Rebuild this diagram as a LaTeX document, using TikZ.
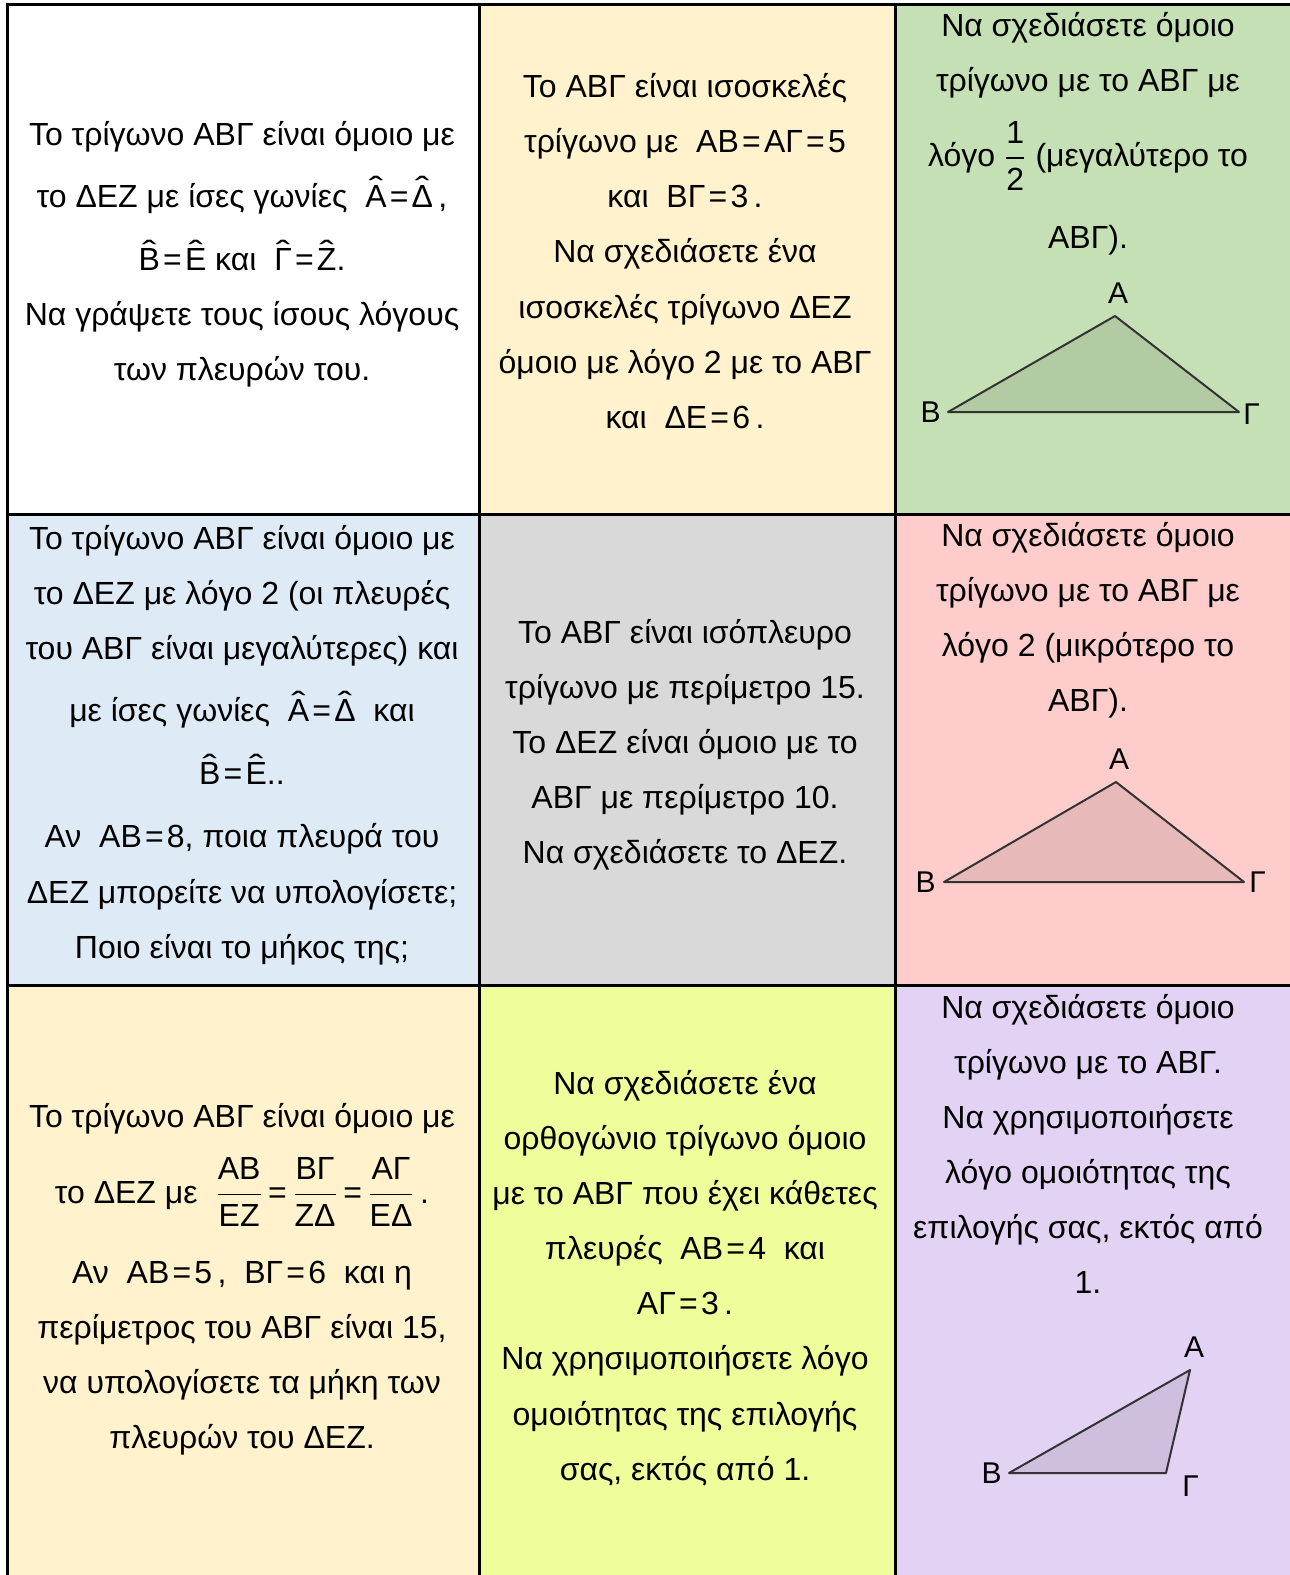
\documentclass[tikz,border=0pt]{standalone}
\usepackage{fontspec}
\setmainfont{Liberation Sans}
\usepackage{amsmath}
\usepackage{graphicx}
\usetikzlibrary{positioning}

\definecolor{kitrino}{HTML}{FFF2CC}
\definecolor{prasino}{HTML}{C5E0B4}
\definecolor{galazio}{HTML}{DEEBF7}
\definecolor{gkri}{HTML}{D9D9D9}
\definecolor{roz}{HTML}{FFCCCC}
\definecolor{lemoni}{HTML}{EFFE9A}
\definecolor{mov}{HTML}{E2D3F4}

% angle with a hat
\newcommand\kap[1]{\leavevmode\setbox0\hbox{#1}\hbox to\wd0{\hss\raisebox{0.24em}{\scalebox{1.35}[1]{ˆ}}\hss}\kern-\wd0\box0\relax}
\newcommand\klasma[2]{$\dfrac{\text{#1}}{\text{#2}}$}
\newcommand\ison{\kern0.1em=\kern0.1em}

\begin{document}
\begin{tikzpicture}[x=0.5pt,y=-0.5pt,
    kelli/.style={align=center,inner sep=0pt,font=\fontsize{16}{27.55}\selectfont},
    korifi/.style={inner sep=0pt,font=\fontsize{15}{18}\selectfont},
    trigono/.style={draw=black!80,line width=1pt,line join=round,fill=black,fill opacity=0.09}]
    \useasboundingbox (0,0) rectangle (1290,1575);

    % Cells
    \fill[white]   (7,4)    rectangle (479,514);
    \fill[kitrino] (479,4)  rectangle (895,514);
    \fill[prasino] (895,4)  rectangle (1290,514);
    \fill[galazio] (7,514)  rectangle (479,985);
    \fill[gkri]    (479,514) rectangle (895,985);
    \fill[roz]     (895,514) rectangle (1290,985);
    \fill[kitrino] (7,985)  rectangle (479,1575);
    \fill[lemoni]  (479,985) rectangle (895,1575);
    \fill[mov]     (895,985) rectangle (1290,1575);

    % Grid
    \draw[line width=1.5pt] (1290,4)--(7,4)--(7,1575);
    \foreach \y in {514,985} \draw[line width=1.5pt] (7,\y)--(1290,\y);
    \foreach \x in {479,895} \draw[line width=1.5pt] (\x,4)--(\x,1575);

    % Text
    \node[kelli] (q1) at (242,254.5) {Το τρίγωνο ΑΒΓ είναι όμοιο με\\[3.5pt]
        το ΔΕΖ με ίσες γωνίες~ \kap{Α}\ison\kap{Δ}\,,\\[4pt]
        \kap{Β}\ison\kap{Ε} και~ \kap{Γ}\ison\kap{Ζ}.\\
        Να γράψετε τους ίσους λόγους\\
        των πλευρών του.};
    \node[kelli] (q2) at (685,251) {Το ΑΒΓ είναι ισοσκελές\\
        τρίγωνο με~ ΑΒ\ison ΑΓ\ison 5\\
        και~ ΒΓ\ison 3\,.\\
        Να σχεδιάσετε ένα\\
        ισοσκελές τρίγωνο ΔΕΖ\\
        όμοιο με λόγο 2 με το ΑΒΓ\\
        και~ ΔΕ\ison 6\,.};
    \node[kelli] (q3) at (1088,134) {Να σχεδιάσετε όμοιο\\
        τρίγωνο με το ΑΒΓ με\\[10pt]
        λόγο \klasma{1}{2} (μεγαλύτερο το\\[13.5pt]
        ΑΒΓ).};
    \node[kelli] (q4) at (242,745) {Το τρίγωνο ΑΒΓ είναι όμοιο με\\
        το ΔΕΖ με λόγο 2 (οι πλευρές\\
        του ΑΒΓ είναι μεγαλύτερες) και\\[3.5pt]
        με ίσες γωνίες~ \kap{Α}\ison\kap{Δ}~ και\\[4pt]
        \kap{Β}\ison\kap{Ε}..\\[4pt]
        Αν~ ΑΒ\ison 8, ποια πλευρά του\\
        ΔΕΖ μπορείτε να υπολογίσετε;\\
        Ποιο είναι το μήκος της;};
    \node[kelli] (q5) at (685,745) {Το ΑΒΓ είναι ισόπλευρο\\
        τρίγωνο με περίμετρο 15.\\
        Το ΔΕΖ είναι όμοιο με το\\
        ΑΒΓ με περίμετρο 10.\\
        Να σχεδιάσετε το ΔΕΖ.};
    \node[kelli] (q6) at (1088,620.5) {Να σχεδιάσετε όμοιο\\
        τρίγωνο με το ΑΒΓ με\\
        λόγο 2 (μικρότερο το\\
        ΑΒΓ).};
    \node[kelli] (q7) at (242,1279) {Το τρίγωνο ΑΒΓ είναι όμοιο με\\[10.5pt]
        το ΔΕΖ με~ \klasma{ΑΒ}{ΕΖ}\,=\,\klasma{ΒΓ}{ΖΔ}\,=\,\klasma{ΑΓ}{ΕΔ}\,.\\[12.5pt]
        Αν~ ΑΒ\ison 5\,,~ ΒΓ\ison 6~ και η\\
        περίμετρος του ΑΒΓ είναι 15,\\
        να υπολογίσετε τα μήκη των\\
        πλευρών του ΔΕΖ.};
    \node[kelli] (q8) at (685,1278) {Να σχεδιάσετε ένα\\
        ορθογώνιο τρίγωνο όμοιο\\
        με το ΑΒΓ που έχει κάθετες\\
        πλευρές~ ΑΒ\ison 4~ και\\
        ΑΓ\ison 3\,.\\
        Να χρησιμοποιήσετε λόγο\\
        ομοιότητας της επιλογής\\
        σας, εκτός από 1.};
    \node[kelli] (q9) at (1088,1144) {Να σχεδιάσετε όμοιο\\
        τρίγωνο με το ΑΒΓ.\\
        Να χρησιμοποιήσετε\\
        λόγο ομοιότητας της\\
        επιλογής σας, εκτός από\\
        1.};

    % Triangle Coordinates
    \coordinate (A3) at (1115,316);
    \coordinate (B3) at (948,412);
    \coordinate (G3) at (1239,412);
    \coordinate (A6) at (1116,782);
    \coordinate (B6) at (944,882);
    \coordinate (G6) at (1244,882);
    \coordinate (A9) at (1190,1370);
    \coordinate (B9) at (1009,1473);
    \coordinate (G9) at (1166,1473);

    % Triangles
    \foreach \t in {3,6,9} \draw[trigono] (A\t)--(B\t)--(G\t)--cycle;

    % Labels
    \node[korifi,above=6pt of A3,xshift=1.5pt] (a3) {Α};
    \node[korifi,left=3.5pt of B3] (b3) {Β};
    \node[korifi,right=2pt of G3,yshift=-1pt] (g3) {Γ};
    \node[korifi,above=6pt of A6,xshift=1.5pt] (a6) {Α};
    \node[korifi,left=4pt of B6] (b6) {Β};
    \node[korifi,right=2.5pt of G6] (g6) {Γ};
    \node[korifi,above=6pt of A9,xshift=2pt] (a9) {Α};
    \node[korifi,left=3.5pt of B9] (b9) {Β};
    \node[korifi,below right=1pt and 8pt of G9] (g9) {Γ};
\end{tikzpicture}
\end{document}
